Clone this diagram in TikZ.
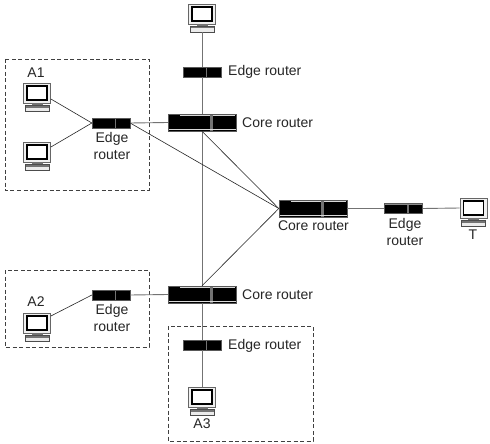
\documentclass[tikz,border=0pt]{standalone}
\usepackage{fontspec}
\setmainfont{Liberation Sans}
\newcommand{\lbl}{\fontsize{14}{16.5}\selectfont}
\tikzset{
  x=1pt,y=-1pt,
  lab/.style={inner sep=0pt,font=\lbl,align=center,text=black!85},
  dashbox/.style={draw=black!75,line width=0.6pt,dash pattern=on 4pt off 2.5pt},
  wire/.style={draw=black!55,line width=0.9pt},
  thin wire/.style={draw=black!85,line width=0.6pt},
  neck/.style={draw=black!55,line width=11pt},
  pcnode/.style={draw=black!60,fill=black!6,line width=0.8pt,minimum width=27pt,minimum height=20pt,inner sep=0pt,
    path picture={
      \fill[white,draw=black,line width=1.2pt] ([xshift=-10pt,yshift=-7pt]path picture bounding box.center) rectangle ([xshift=10pt,yshift=7pt]path picture bounding box.center);
    }},
  edgenode/.style={draw=black!65,fill=black,line width=0.3pt,minimum width=38pt,minimum height=10pt,inner sep=0pt,
    path picture={
      \fill[black!55] ([xshift=3.5pt]path picture bounding box.north) rectangle ([xshift=5pt]path picture bounding box.south);
      \fill[black!45] (path picture bounding box.north west) rectangle ([yshift=-1pt]path picture bounding box.north east);
    }},
  corenode/.style={draw=black!65,fill=black,line width=0.4pt,minimum width=68pt,minimum height=17pt,inner sep=0pt,
    path picture={
      \fill[black!55] ([xshift=8pt]path picture bounding box.north) rectangle ([xshift=11pt]path picture bounding box.south);
      \fill[black!15] ([xshift=-22pt,yshift=-1pt]path picture bounding box.north) rectangle ([xshift=8pt,yshift=-2.2pt]path picture bounding box.north);
      \fill[black!15] ([xshift=11pt,yshift=-1pt]path picture bounding box.north) rectangle ([yshift=-2.2pt,xshift=-1pt]path picture bounding box.north east);
      \fill[black!15] ([yshift=1pt]path picture bounding box.south west) rectangle ([yshift=2pt]path picture bounding box.south east);
    }},
  pcbase/.style={draw=black!70,fill=black!8,line width=0.6pt,minimum width=24pt,minimum height=6pt,inner sep=0pt,
    path picture={
      \fill[black!55] (path picture bounding box.north west) rectangle ([yshift=-2.5pt]path picture bounding box.north east);
    }}
}
\begin{document}
\begin{tikzpicture}
\useasboundingbox (0,0) rectangle (490,444);
\fill[white] (0,0) rectangle (490,444);
% dashed regions
\draw[dashbox] (5,59) rectangle (149,190);
\draw[dashbox] (5,270) rectangle (149,347);
\draw[dashbox] (168,326) rectangle (313,441);
% computer necks and bases
\node[pcnode] (pctop) at (202,14) {};
\node[pcbase] (pctopb) at (202,29) {};
\node[pcnode] (pca) at (37,93) {};
\node[pcbase] (pcab) at (37,108) {};
\node[pcnode] (pcb) at (37,152) {};
\node[pcbase] (pcbb) at (37,167) {};
\node[pcnode] (pcc) at (37,323) {};
\node[pcbase] (pccb) at (37,338) {};
\node[pcnode] (pcd) at (202,397) {};
\node[pcbase] (pcdb) at (202,412) {};
\node[pcnode] (pct) at (473.5,208) {};
\node[pcbase] (pctb) at (473.5,223) {};
\foreach \m/\b in {pctop/pctopb,pca/pcab,pcb/pcbb,pcc/pccb,pcd/pcdb,pct/pctb}
  \draw[neck] (\m.south) -- (\b.north);
% routers
\node[corenode] (ct) at (202,122.5) {};
\node[corenode] (cr) at (313,208.5) {};
\node[corenode] (cb) at (202,294.5) {};
\node[edgenode] (et) at (202,72) {};
\node[edgenode] (ea) at (111,123) {};
\node[edgenode] (ec) at (111,295) {};
\node[edgenode] (ed) at (202,345) {};
\node[edgenode] (er) at (403.5,208.5) {};
% connectors
\draw[wire] (pctopb.south) -- (et.north);
\draw[wire] (et.south) -- (ct.north);
\draw[wire] (ct.south) -- (cb.north);
\draw[wire] (cb.south) -- (ed.north);
\draw[wire] (ed.south) -- (pcd.north);
\draw[wire] (ea.east) -- (ct.west);
\draw[wire] (ec.east) -- (cb.west);
\draw[wire] (cr.east) -- (er.west);
\draw[wire] (er.east) -- (pct.west);
\draw[thin wire] ([yshift=-6pt]pca.east) -- (ea.west);
\draw[thin wire] ([yshift=5pt]pcb.east) -- (ea.west);
\draw[thin wire] ([yshift=7pt]pcc.east) -- (ec.west);
\draw[thin wire] (ea.east) -- (cr.west);
\draw[thin wire] (ct.south) -- (cr.west);
\draw[thin wire] (cb.north) -- (cr.west);
% labels
\node[lab,anchor=west] (lt) at (228,72) {Edge router};
\node[lab,anchor=west] (lct) at (242,122.5) {Core router};
\node[lab,anchor=west] (lcb) at (242,295) {Core router};
\node[lab,anchor=west] (ld) at (228,345.5) {Edge router};
\node[lab] (lcr) at (313.5,226) {Core router};
\node[lab] (la) at (112,146) {Edge\\router};
\node[lab] (lc) at (112,318) {Edge\\router};
\node[lab] (lr) at (405,232) {Edge\\router};
\node[lab] (a1) at (36,73) {A1};
\node[lab] (a2) at (36,302) {A2};
\node[lab] (a3) at (202,424) {A3};
\node[lab] (tt) at (473,235) {T};
\end{tikzpicture}
\end{document}
